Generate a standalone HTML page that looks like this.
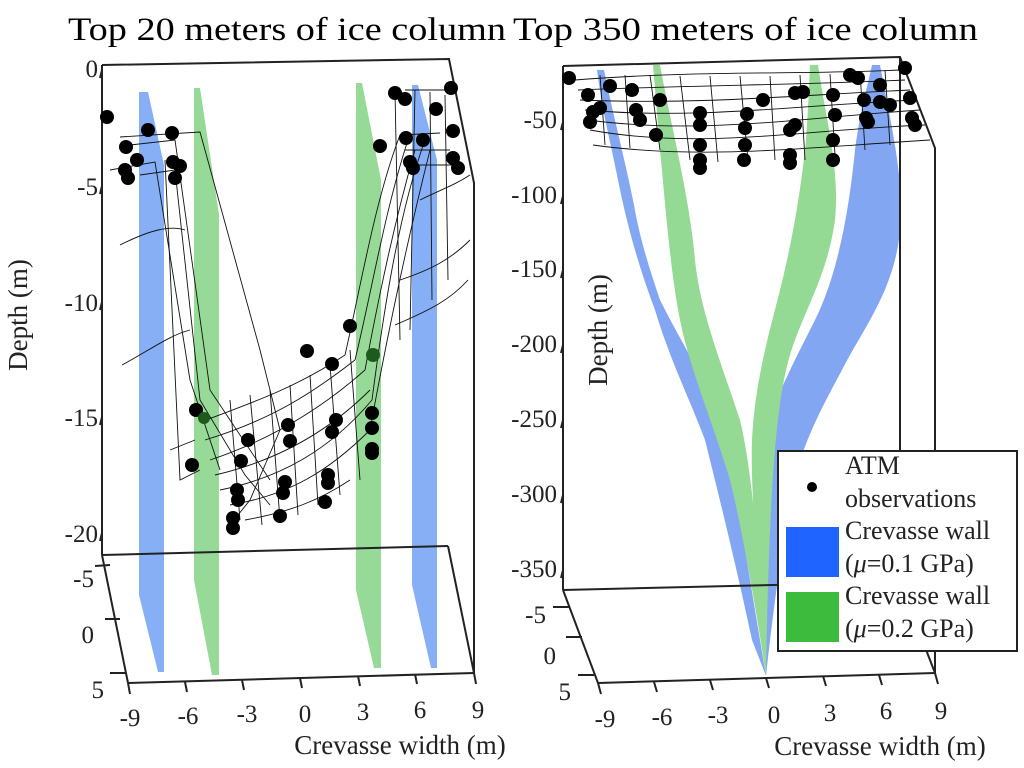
<!DOCTYPE html>
<html><head><meta charset="utf-8"><style>html,body{margin:0;padding:0;background:#fff}svg{display:block}</style></head>
<body>
<svg width="1024" height="768" viewBox="0 0 1024 768" xmlns="http://www.w3.org/2000/svg" font-family="Liberation Serif, serif">
<rect width="1024" height="768" fill="#fff"/>
<text x="68" y="40" font-size="33" textLength="438" lengthAdjust="spacingAndGlyphs">Top 20 meters of ice column</text>
<text x="513" y="40" font-size="33" textLength="465" lengthAdjust="spacingAndGlyphs">Top 350 meters of ice column</text>

<!-- LEFT PANEL -->
<g>
<polygon points="139,92 148,92 164,165 164,672 158,672 139,595" fill="#87aff5"/>
<polygon points="194,88 200,88 219,215 219,675 212,675 194,580" fill="#97d997"/>
<polygon points="356,83 362,83 381,180 381,668 374,668 356,590" fill="#97d997"/>
<polygon points="412,85 418,85 437,160 437,668 431,668 412,585" fill="#87aff5"/>
<g stroke="#222" stroke-width="2" fill="none">
<polyline points="102,65 449,59 474,183 474,673"/>
<line x1="102" y1="65" x2="102" y2="555"/>
<line x1="102" y1="555" x2="448" y2="546"/>
<line x1="102" y1="555" x2="128" y2="683"/>
<line x1="128" y1="683" x2="474" y2="673"/>
<line x1="448" y1="546" x2="474" y2="673"/>
</g>
<g stroke="#111" stroke-width="0.9" fill="none">
<path d="M120,137 L200,132 L260,350 L280,430 L250,500 L230,525"/>
<path d="M130,145 L175,140 L210,390 L270,480"/>
<path d="M110,170 L155,162 L190,380 L220,470"/>
<path d="M140,175 L175,170 L200,400 L245,475 L270,505"/>
<path d="M165,160 L180,480 L200,470"/>
<path d="M120,245 C150,230 170,225 185,230"/>
<path d="M122,365 C150,350 170,335 190,330"/>
<path d="M170,450 L195,440"/>
<path d="M206,420 C260,400 300,385 345,355"/>
<path d="M205,440 C270,420 310,395 355,360"/>
<path d="M210,460 C270,440 320,410 365,370"/>
<path d="M215,475 C280,460 330,430 370,390"/>
<path d="M220,490 C280,478 330,450 372,400"/>
<path d="M230,505 C290,495 330,470 370,430"/>
<path d="M245,520 C290,512 320,500 350,480"/>
<path d="M230,400 L240,520 M250,395 L262,525 M270,390 L280,520 M290,385 L298,515 M310,375 L318,505 M330,365 L340,495 M350,350 L360,480"/>
<path d="M345,355 C360,290 375,200 400,135 M355,360 C372,290 385,210 408,140 M365,370 C380,290 395,220 415,150 M372,400 C385,300 400,210 425,140 M370,430 C390,320 410,230 430,150"/>
<path d="M400,135 L440,133 M405,150 L450,150 M410,165 L455,165 M405,90 L455,90"/>
<path d="M415,90 L410,330 M430,92 L432,300 M445,95 L448,280 M395,92 L400,340"/>
<path d="M400,280 C430,270 450,260 470,240"/>
<path d="M395,325 C430,310 450,300 468,280"/>
<path d="M420,200 C440,190 455,185 470,175"/>
</g>
<g fill="#000">
<circle cx="107" cy="117" r="7"/><circle cx="126" cy="147" r="7"/><circle cx="125" cy="170" r="7"/><circle cx="128" cy="178" r="7"/><circle cx="137" cy="160" r="7"/><circle cx="148" cy="130" r="7"/><circle cx="172" cy="133" r="7"/><circle cx="173" cy="162" r="7"/><circle cx="180" cy="166" r="7"/><circle cx="175" cy="178" r="7"/>
<circle cx="307" cy="351" r="7"/><circle cx="332" cy="364" r="7"/><circle cx="350" cy="326" r="7"/>
<circle cx="196" cy="410" r="7"/><circle cx="192" cy="465" r="7"/><circle cx="248" cy="440" r="7"/><circle cx="241" cy="461" r="7"/><circle cx="237" cy="490" r="7"/><circle cx="238" cy="500" r="7"/><circle cx="233" cy="518" r="7"/><circle cx="233" cy="528" r="7"/>
<circle cx="288" cy="425" r="7"/><circle cx="290" cy="441" r="7"/><circle cx="285" cy="482" r="7"/><circle cx="283" cy="493" r="7"/><circle cx="280" cy="516" r="7"/><circle cx="336" cy="420" r="7"/><circle cx="332" cy="432" r="7"/><circle cx="328" cy="475" r="7"/><circle cx="328" cy="483" r="7"/><circle cx="325" cy="502" r="7"/>
<circle cx="372" cy="413" r="7"/><circle cx="372" cy="428" r="7"/><circle cx="372" cy="449" r="7"/><circle cx="372" cy="453" r="7"/>
<circle cx="380" cy="146" r="7"/><circle cx="395" cy="93" r="7"/><circle cx="405" cy="99" r="7"/><circle cx="406" cy="138" r="7"/><circle cx="410" cy="162" r="7"/><circle cx="413" cy="168" r="7"/><circle cx="423" cy="140" r="7"/><circle cx="436" cy="109" r="7"/><circle cx="451" cy="88" r="7"/><circle cx="453" cy="131" r="7"/><circle cx="453" cy="158" r="7"/><circle cx="458" cy="168" r="7"/>
</g>
<circle cx="204" cy="418" r="6" fill="#1e5a1e"/><circle cx="373" cy="355" r="7" fill="#1e5a1e"/>
<g stroke="#222" stroke-width="2">
<line x1="102" y1="70" x2="100" y2="78"/><line x1="102" y1="186" x2="100" y2="194"/><line x1="102" y1="302" x2="100" y2="310"/><line x1="102" y1="417" x2="100" y2="425"/><line x1="102" y1="533" x2="100" y2="541"/>
<line x1="110" y1="565" x2="95" y2="566"/><line x1="120" y1="619" x2="105" y2="619"/><line x1="126" y1="673" x2="110" y2="673"/>
<line x1="128" y1="683" x2="130" y2="694"/><line x1="185" y1="682" x2="187" y2="692"/><line x1="242" y1="680" x2="244" y2="690"/><line x1="300" y1="678" x2="302" y2="688"/><line x1="358" y1="676" x2="360" y2="686"/><line x1="415" y1="674" x2="417" y2="684"/><line x1="474" y1="673" x2="476" y2="684"/>
</g>
<g font-size="25" text-anchor="end" fill="#222">
<text x="98" y="77">0</text><text x="98" y="195">-5</text><text x="98" y="311">-10</text><text x="98" y="426">-15</text><text x="98" y="542">-20</text>
<text x="94" y="587">-5</text><text x="94" y="643">0</text><text x="104" y="698">5</text>
</g>
<g font-size="25" text-anchor="middle" fill="#222">
<text x="130" y="726">-9</text><text x="188" y="724">-6</text><text x="247" y="722">-3</text><text x="305" y="722">0</text><text x="363" y="720">3</text><text x="420" y="718">6</text><text x="478" y="718">9</text>
</g>
<text x="400" y="754" font-size="27" text-anchor="middle" fill="#222">Crevasse width (m)</text>
<text transform="translate(27,315) rotate(-90)" font-size="27" text-anchor="middle" fill="#222">Depth (m)</text>
</g>

<!-- RIGHT PANEL -->
<g>
<g opacity="0.55">
<path d="M597,70 L604,70 C612,110 625,160 634,205 C640,240 650,270 660,300 C680,340 700,370 715,410 C730,450 740,520 766,676 L752,640 C735,560 715,480 705,440 C690,400 670,360 655,310 C640,270 628,230 618,180 C610,140 602,110 597,70 Z" fill="#1f5fe8"/>
<path d="M872,65 L880,65 C890,120 905,180 900,230 C895,290 862,330 842,370 C815,420 800,450 790,500 C780,560 772,620 766,676 C760,620 748,550 755,480 C762,420 790,370 815,320 C840,270 850,200 855,150 C860,110 868,85 872,65 Z" fill="#1f5fe8"/>
<path d="M653,65 L660,65 C672,130 690,200 695,260 C700,310 720,360 740,420 C752,470 760,560 766,676 C755,600 740,520 730,480 C712,420 690,370 680,320 C670,270 665,200 660,150 C657,110 655,90 653,65 Z" fill="#3dbb3d"/>
<path d="M810,65 L818,65 C826,120 840,170 835,220 C828,270 810,300 795,340 C780,380 770,440 766,676 C760,580 750,500 752,440 C755,380 770,330 780,290 C790,250 800,200 806,140 C808,110 809,90 810,65 Z" fill="#3dbb3d"/>
</g>
<g stroke="#222" stroke-width="2" fill="none">
<polyline points="563,66 900,57 935,148 935,673"/>
<line x1="563" y1="66" x2="563" y2="590"/>
<line x1="563" y1="590" x2="900" y2="582"/>
<line x1="900" y1="57" x2="900" y2="582"/>
<line x1="563" y1="590" x2="598" y2="683"/>
<line x1="598" y1="683" x2="935" y2="673"/>
<line x1="900" y1="582" x2="935" y2="673"/>
</g>
<g stroke="#111" stroke-width="0.9" fill="none">
<path d="M575,80 C700,70 800,75 900,70 M578,90 C700,85 800,85 905,80 M580,100 C700,105 800,95 910,90 M585,110 C700,120 800,105 915,100 M588,120 C700,135 800,118 920,110 M590,130 C700,150 800,130 925,125 M593,145 C700,160 800,148 930,140"/>
<path d="M600,75 L605,145 M625,75 L630,148 M650,75 L660,150 M680,76 L690,160 M710,76 L718,162 M740,76 L748,160 M770,76 L775,160 M800,75 L805,160 M830,74 L835,155 M860,72 L865,150 M885,70 L890,145"/>
</g>
<g fill="#000">
<circle cx="569" cy="78" r="7"/><circle cx="588" cy="95" r="7"/><circle cx="593" cy="112" r="7"/><circle cx="590" cy="122" r="7"/><circle cx="600" cy="108" r="7"/><circle cx="610" cy="86" r="7"/><circle cx="632" cy="90" r="7"/><circle cx="636" cy="110" r="7"/><circle cx="640" cy="120" r="7"/><circle cx="656" cy="135" r="7"/><circle cx="660" cy="100" r="7"/>
<circle cx="700" cy="113" r="7"/><circle cx="700" cy="125" r="7"/><circle cx="700" cy="145" r="7"/><circle cx="700" cy="160" r="7"/><circle cx="700" cy="168" r="7"/>
<circle cx="747" cy="114" r="7"/><circle cx="745" cy="128" r="7"/><circle cx="745" cy="145" r="7"/><circle cx="744" cy="160" r="7"/><circle cx="763" cy="100" r="7"/>
<circle cx="790" cy="130" r="7"/><circle cx="790" cy="155" r="7"/><circle cx="790" cy="163" r="7"/><circle cx="795" cy="93" r="7"/><circle cx="803" cy="92" r="7"/><circle cx="795" cy="125" r="7"/>
<circle cx="833" cy="95" r="7"/><circle cx="835" cy="115" r="7"/><circle cx="833" cy="140" r="7"/><circle cx="833" cy="160" r="7"/>
<circle cx="850" cy="75" r="7"/><circle cx="858" cy="78" r="7"/><circle cx="864" cy="100" r="7"/><circle cx="866" cy="118" r="7"/><circle cx="868" cy="122" r="7"/><circle cx="880" cy="102" r="7"/><circle cx="880" cy="85" r="7"/><circle cx="905" cy="68" r="7"/><circle cx="910" cy="98" r="7"/><circle cx="912" cy="118" r="7"/><circle cx="915" cy="125" r="7"/><circle cx="890" cy="105" r="7"/>
</g>
<g stroke="#222" stroke-width="2">
<line x1="563" y1="122" x2="561" y2="130"/><line x1="563" y1="196" x2="561" y2="204"/><line x1="563" y1="270" x2="561" y2="278"/><line x1="563" y1="345" x2="561" y2="353"/><line x1="563" y1="420" x2="561" y2="428"/><line x1="563" y1="495" x2="561" y2="503"/><line x1="563" y1="570" x2="561" y2="578"/>
<line x1="569" y1="607" x2="553" y2="607"/><line x1="582" y1="637" x2="566" y2="637"/><line x1="594" y1="675" x2="578" y2="675"/>
<line x1="598" y1="683" x2="601" y2="694"/><line x1="654" y1="682" x2="657" y2="692"/><line x1="710" y1="680" x2="713" y2="690"/><line x1="766" y1="678" x2="769" y2="688"/><line x1="823" y1="676" x2="826" y2="686"/><line x1="879" y1="675" x2="882" y2="685"/><line x1="935" y1="673" x2="938" y2="684"/>
</g>
<g font-size="25" text-anchor="end" fill="#222">
<text x="557" y="128">-50</text><text x="557" y="203">-100</text><text x="557" y="277">-150</text><text x="557" y="352">-200</text><text x="557" y="427">-250</text><text x="557" y="502">-300</text><text x="557" y="577">-350</text>
<text x="546" y="623">-5</text><text x="556" y="664">0</text><text x="571" y="700">5</text>
</g>
<g font-size="25" text-anchor="middle" fill="#222">
<text x="605" y="727">-9</text><text x="662" y="725">-6</text><text x="718" y="723">-3</text><text x="774" y="723">0</text><text x="830" y="721">3</text><text x="886" y="719">6</text><text x="941" y="719">9</text>
</g>
<text x="880" y="755" font-size="27" text-anchor="middle" fill="#222">Crevasse width (m)</text>
<text transform="translate(607,330) rotate(-90)" font-size="27" text-anchor="middle" fill="#222">Depth (m)</text>
<rect x="778" y="451" width="239" height="200" fill="#fff" stroke="#222" stroke-width="2"/>
<circle cx="812" cy="487" r="5" fill="#000"/>
<rect x="786" y="527" width="53" height="50" fill="#1f64ff"/>
<rect x="786" y="592" width="53" height="50" fill="#3dbb3d"/>
<g font-size="26" fill="#222">
<text x="845" y="474">ATM</text><text x="845" y="507">observations</text>
<text x="845" y="539">Crevasse wall</text><text x="845" y="572">(<tspan font-style="italic">μ</tspan>=0.1 GPa)</text>
<text x="845" y="604">Crevasse wall</text><text x="845" y="637">(<tspan font-style="italic">μ</tspan>=0.2 GPa)</text>
</g>
</g>
</svg>
</body></html>
